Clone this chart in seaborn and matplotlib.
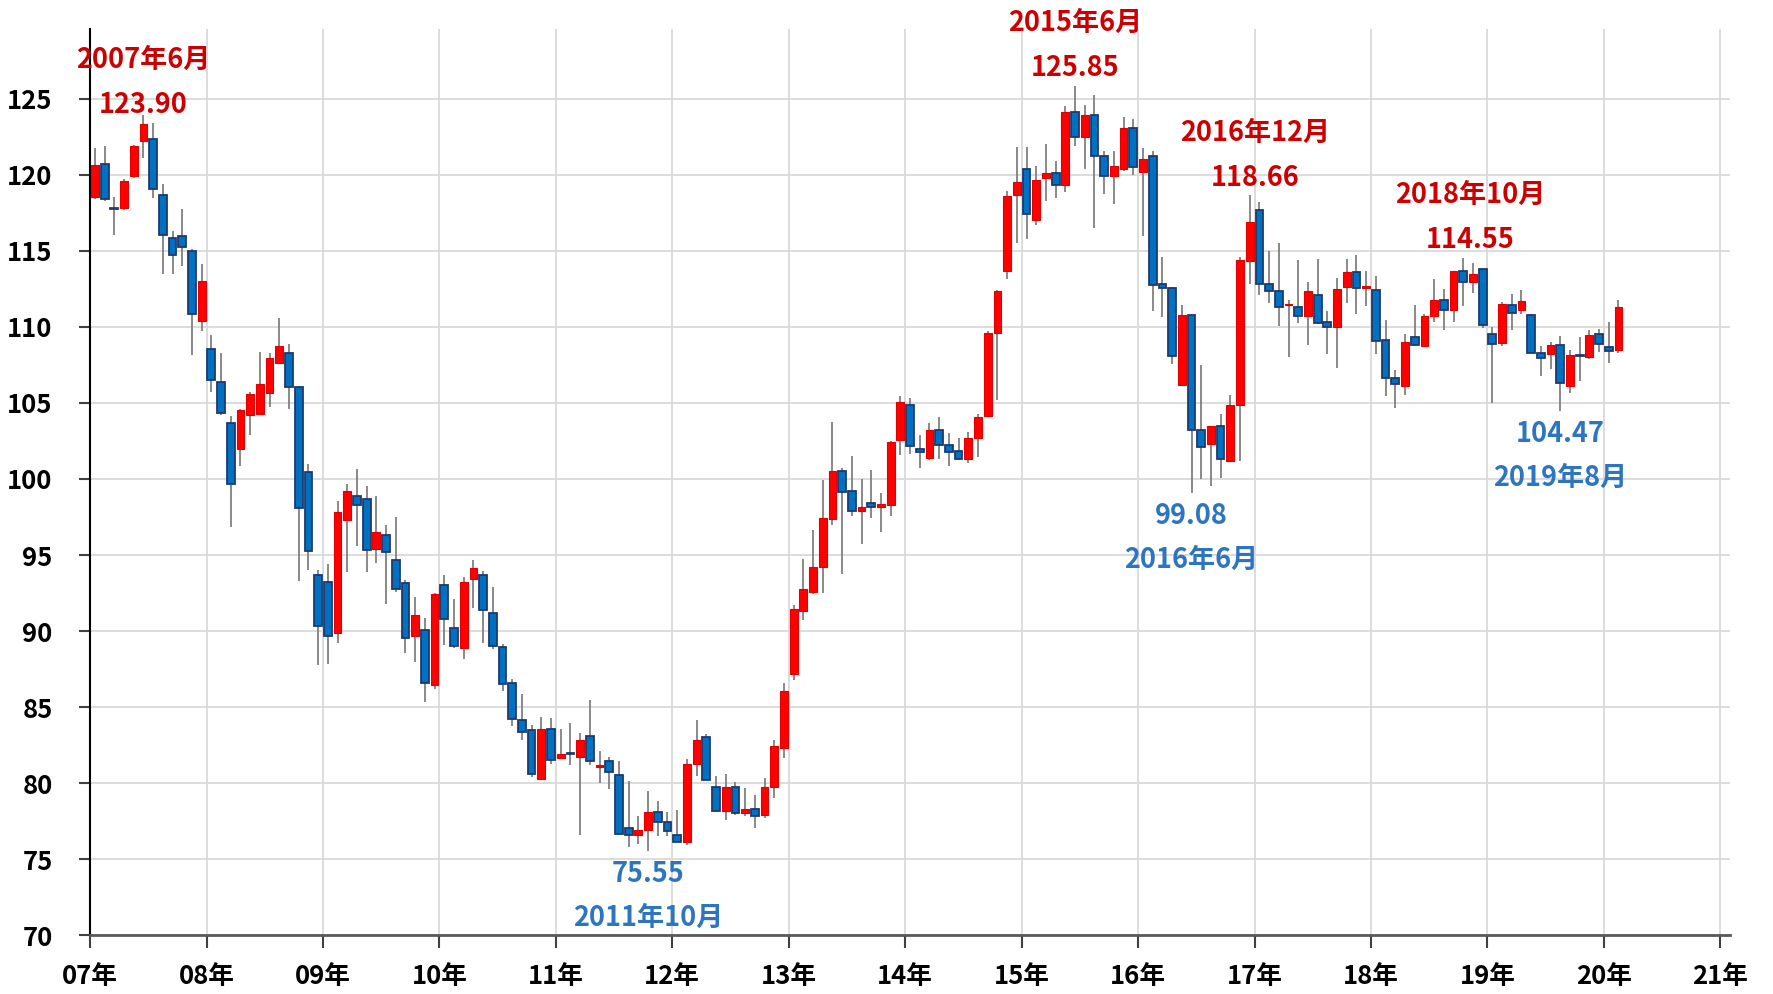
import numpy as np
import pandas as pd
import matplotlib
matplotlib.use("Agg")
import matplotlib.pyplot as plt
import seaborn as sns

# --- monthly USD/JPY candles, Jan 2007 - Feb 2020 ---
opens = [
    118.54, 120.73, 117.80, 117.84, 119.90, 122.24, 122.37, 118.65, 115.87, 115.98, 114.99, 110.39,  # 2007
    108.53, 106.34, 103.67, 101.94, 104.19, 104.30, 105.64, 107.65, 108.25, 106.06, 100.43, 93.70,  # 2008
    93.24, 89.86, 97.33, 98.87, 98.69, 95.40, 96.32, 94.67, 93.13, 89.68, 90.08, 86.43,             # 2009
    93.02, 90.19, 88.91, 93.42, 93.70, 91.22, 88.96, 86.56, 84.15, 83.49, 80.25, 83.58,             # 2010
    81.67, 81.97, 81.73, 83.09, 81.07, 81.49, 80.53, 77.06, 76.58, 76.95, 78.11, 77.46,             # 2011
    76.62, 76.12, 81.27, 83.03, 79.76, 78.20, 79.76, 78.05, 78.31, 77.94, 79.76, 82.32,             # 2012
    87.15, 91.34, 92.60, 94.22, 97.35, 100.49, 99.20, 97.88, 98.44, 98.15, 98.32, 102.55,           # 2013
    104.83, 101.99, 101.37, 103.22, 102.25, 101.84, 101.31, 102.72, 104.16, 109.62, 113.69, 118.68,  # 2014
    120.40, 117.02, 119.81, 120.12, 119.30, 124.11, 122.46, 123.92, 121.24, 119.93, 120.35, 123.05,  # 2015
    120.16, 121.24, 112.79, 112.56, 106.15, 110.77, 103.22, 102.28, 103.45, 101.17, 104.86, 114.32,  # 2016
    117.70, 112.84, 112.38, 111.41, 111.31, 110.74, 112.07, 110.30, 109.97, 112.62, 113.60, 112.58,  # 2017
    112.44, 109.11, 106.64, 106.14, 109.31, 108.72, 110.69, 111.79, 111.13, 113.69, 112.93, 113.80,  # 2018
    109.54, 108.94, 111.45, 111.08, 110.79, 108.28, 108.22, 108.81, 106.08, 108.15, 107.99, 109.54,  # 2019
    108.70, 108.48,                                                                                  # 2020
]
highs = [
    121.76, 121.89, 118.54, 119.70, 121.95, 123.90, 123.42, 119.42, 116.28, 117.77, 115.10, 114.16,
    109.49, 108.25, 104.15, 104.60, 105.73, 108.36, 108.29, 110.55, 108.84, 106.10, 101.00, 94.00,
    94.41, 98.58, 99.70, 100.63, 99.53, 98.87, 97.00, 97.53, 93.37, 92.27, 90.89, 92.50,
    93.70, 92.10, 93.53, 94.69, 93.97, 92.87, 89.13, 86.82, 85.88, 83.80, 84.34, 84.30,
    83.57, 83.97, 83.27, 85.46, 82.11, 81.73, 81.45, 80.13, 77.83, 79.47, 78.82, 78.11,
    78.22, 81.60, 84.14, 83.25, 80.50, 80.61, 80.07, 79.69, 79.21, 80.35, 82.87, 86.56,
    91.70, 94.71, 96.62, 99.94, 103.75, 100.73, 101.52, 99.99, 100.58, 99.06, 102.49, 105.42,
    105.33, 102.87, 103.66, 104.10, 103.02, 102.72, 103.07, 104.25, 109.73, 112.40, 118.91, 121.85,
    121.83, 120.59, 122.04, 120.87, 124.53, 125.85, 124.58, 125.23, 121.53, 121.53, 123.76, 123.64,
    121.76, 121.53, 114.60, 112.60, 111.43, 110.80, 107.51, 103.45, 104.27, 105.52, 114.60, 118.66,
    118.18, 114.96, 115.51, 111.79, 114.37, 112.93, 114.46, 111.02, 113.21, 114.46, 114.74, 113.69,
    113.32, 110.47, 107.19, 109.53, 111.41, 110.85, 113.15, 112.49, 113.70, 114.55, 114.20, 113.80,
    110.02, 111.63, 112.14, 112.44, 110.86, 108.77, 108.99, 109.38, 108.48, 109.32, 109.76, 109.87,
    110.31, 111.74,
]
lows = [
    118.40, 118.30, 116.02, 117.70, 119.80, 121.10, 118.47, 113.44, 113.44, 114.01, 108.14, 109.71,
    105.73, 104.20, 96.86, 100.87, 102.92, 104.20, 104.76, 107.60, 104.57, 93.30, 94.00, 87.75,
    87.86, 89.20, 93.90, 95.62, 93.90, 94.45, 91.77, 92.58, 88.54, 87.97, 85.35, 86.21,
    89.07, 88.91, 88.14, 91.55, 89.20, 88.80, 86.05, 83.75, 82.81, 80.43, 80.20, 81.24,
    81.56, 81.23, 76.58, 81.23, 80.02, 79.65, 76.69, 75.81, 76.03, 75.55, 76.51, 76.51,
    76.14, 75.92, 80.50, 80.24, 78.11, 77.61, 77.94, 77.83, 77.06, 77.72, 79.04, 81.67,
    86.79, 90.75, 92.43, 92.51, 97.00, 93.78, 97.59, 95.74, 97.44, 96.53, 97.59, 101.55,
    101.67, 100.73, 101.23, 101.31, 100.87, 101.23, 101.02, 101.46, 104.16, 105.19, 113.14, 115.48,
    115.77, 116.67, 118.24, 118.47, 118.83, 121.88, 120.35, 116.48, 118.76, 118.08, 120.23, 120.00,
    115.96, 111.01, 110.66, 107.56, 106.15, 99.08, 99.98, 99.51, 100.05, 101.17, 101.17, 112.84,
    112.07, 111.57, 110.03, 108.02, 110.25, 108.79, 110.21, 108.24, 107.30, 111.57, 110.85, 111.39,
    108.24, 105.48, 104.67, 105.55, 108.76, 108.72, 110.30, 109.77, 110.32, 111.35, 112.22, 109.93,
    104.98, 108.77, 109.76, 110.86, 108.28, 106.74, 107.22, 104.47, 105.68, 106.41, 107.89, 108.37,
    107.60, 108.28,
]
closes = [
    120.62, 118.43, 117.73, 119.59, 121.89, 123.31, 119.09, 116.06, 114.71, 115.25, 110.81, 113.02,
    106.49, 104.33, 99.70, 104.55, 105.57, 106.23, 107.98, 108.75, 106.04, 98.11, 95.26, 90.34,
    89.68, 97.81, 99.18, 98.30, 95.33, 96.49, 95.22, 92.76, 89.57, 91.04, 86.60, 92.47,
    90.82, 89.02, 93.24, 94.12, 91.40, 89.02, 86.54, 84.23, 83.38, 80.62, 83.58, 81.50,
    81.95, 81.90, 82.83, 81.49, 81.21, 80.72, 76.69, 76.58, 76.95, 78.11, 77.46, 76.84,
    76.14, 81.29, 82.83, 80.24, 78.20, 79.76, 78.05, 78.33, 77.83, 79.76, 82.43, 86.05,
    91.43, 92.75, 94.19, 97.41, 100.49, 99.11, 97.88, 98.18, 98.18, 98.38, 102.40, 105.04,
    102.14, 101.75, 103.22, 102.25, 101.75, 101.31, 102.72, 104.04, 109.62, 112.37, 118.62, 119.50,
    117.42, 119.65, 120.12, 119.30, 124.11, 122.46, 123.92, 121.22, 119.93, 120.59, 123.05, 120.52,
    121.06, 112.72, 112.56, 108.10, 110.77, 103.22, 102.09, 103.45, 101.29, 104.86, 114.37, 116.88,
    112.82, 112.38, 111.31, 111.52, 110.74, 112.38, 110.25, 109.99, 112.49, 113.60, 112.55, 112.67,
    109.09, 106.64, 106.25, 109.00, 108.83, 110.69, 111.79, 111.13, 113.69, 112.95, 113.49, 110.14,
    108.88, 111.48, 110.90, 111.67, 108.28, 107.93, 108.81, 106.28, 108.15, 108.08, 109.47, 108.88,
    108.39, 111.30,
]

year_ticks = ["07年", "08年", "09年", "10年", "11年", "12年", "13年",
              "14年", "15年", "16年", "17年", "18年", "19年", "20年", "21年"]
y_ticks = [70, 75, 80, 85, 90, 95, 100, 105, 110, 115, 120, 125]

# highs and lows that are labelled on the chart
note_month = ["2007-06", "2015-06", "2016-12", "2018-10", "2011-10", "2016-06", "2019-08"]
note_date = ["2007年6月", "2015年6月", "2016年12月", "2018年10月", "2011年10月", "2016年6月", "2019年8月"]
note_value = [123.90, 125.85, 118.66, 114.55, 75.55, 99.08, 104.47]
note_kind = ["high", "high", "high", "high", "low", "low", "low"]

# small hand placement tweaks for some labels (months, yen)
nudge_x = {"2016-12": 0.6, "2018-10": 0.7}
nudge_y = {"2007-06": -0.45}

RED = "#FF0000"
BLUE = "#0070C0"
TXT_RED = "#CC0000"
TXT_BLUE = "#2E75C0"

sns.set_theme(style="whitegrid")
plt.rcParams["font.family"] = ["Noto Sans CJK JP", "DejaVu Sans"]

df = pd.DataFrame({"open": opens, "high": highs, "low": lows, "close": closes},
                  index=pd.period_range("2007-01", periods=len(opens), freq="M"))
df["x"] = np.arange(len(df)) + 0.5
up = df["close"] >= df["open"]

fig = plt.figure(figsize=(17.73, 9.94), dpi=100)
ax = fig.add_axes([0.0508, 0.0590, 0.925, 0.9122])

# wicks
ax.vlines(df["x"], df["low"], df["high"], color="#808080", lw=1.3, zorder=2)
# bodies
ax.bar(df["x"][up], (df["close"] - df["open"])[up], bottom=df["open"][up],
       width=0.8, color=RED, edgecolor="#E00000", lw=0.8, zorder=3)
ax.bar(df["x"][~up], (df["open"] - df["close"])[~up], bottom=df["close"][~up],
       width=0.8, color=BLUE, edgecolor="#1F3A6E", lw=1.3, zorder=3)

# labels for highs/lows
for m, d, v, k in zip(note_month, note_date, note_value, note_kind):
    xx = df.loc[pd.Period(m, freq="M"), "x"] + nudge_x.get(m, 0)
    dy = nudge_y.get(m, 0) - 0.2
    if k == "high":
        c, y_val, y_date = TXT_RED, v + 1.35 + dy, v + 4.3 + dy
    else:
        c, y_val, y_date = TXT_BLUE, v - 1.3 + dy, v - 4.2 + dy
    ax.text(xx, y_val, f"{v:.2f}", color=c, fontsize=19.5, fontweight="bold",
            ha="center", va="center", zorder=5)
    ax.text(xx, y_date, d, color=c, fontsize=19.5, fontweight="bold",
            ha="center", va="center", zorder=5)

ax.set_xlim(0, 169)
ax.set_ylim(70, 129.6)
ax.set_xticks(np.arange(len(year_ticks)) * 12)
ax.set_xticklabels(year_ticks)
ax.set_yticks(y_ticks)
ax.set_yticklabels([str(v) for v in y_ticks])

ax.grid(True, color="#D9D9D9", lw=1.3)
ax.set_axisbelow(True)
for s in ["top", "right"]:
    ax.spines[s].set_visible(False)
ax.spines["left"].set_color("black")
ax.spines["left"].set_linewidth(1.5)
ax.spines["bottom"].set_color("#595959")
ax.spines["bottom"].set_linewidth(2)

ax.tick_params(axis="y", left=True, length=8, width=1.5, color="#404040",
               pad=19, labelsize=18.5, labelcolor="black")
ax.tick_params(axis="x", bottom=True, length=9, width=1.5, color="#404040",
               pad=11, labelsize=18.5, labelcolor="black")
for lab in ax.get_xticklabels() + ax.get_yticklabels():
    lab.set_fontweight("bold")

ax.set_xlabel("")
ax.set_ylabel("")
fig.savefig("out.png", dpi=100, facecolor="white")
